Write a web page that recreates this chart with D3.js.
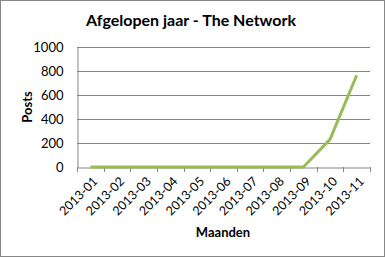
<!DOCTYPE html>
<html>
<head>
<meta charset="utf-8">
<script src="https://cdn.jsdelivr.net/npm/d3@7"></script>
<style>
  body { margin: 0; background: #fff; }
  text { font-family: Lato, "Open Sans", sans-serif; fill: #000; }
</style>
</head>
<body>
<div id="chart"></div>
<script>
// Chart data
const months = ["2013-01", "2013-02", "2013-03", "2013-04", "2013-05", "2013-06",
                "2013-07", "2013-08", "2013-09", "2013-10", "2013-11"];
const posts = [0, 0, 0, 0, 0, 0, 0, 0, 0, 230, 765];
const yTicks = [0, 200, 400, 600, 800, 1000];

const width = 385, height = 257;
const margin = { top: 47, right: 15, bottom: 90, left: 77 };

const svg = d3.select("#chart")
    .append("svg")
    .attr("width", width)
    .attr("height", height);

// outer border
svg.append("rect")
    .attr("x", 0.5).attr("y", 0.5)
    .attr("width", width - 1).attr("height", height - 1)
    .attr("fill", "#fff")
    .attr("stroke", "#868686");

const x = d3.scaleBand()
    .domain(months)
    .range([margin.left, width - margin.right]);

const y = d3.scaleLinear()
    .domain([0, 1000])
    .range([height - margin.bottom, margin.top]);

// gridlines
svg.append("g")
    .selectAll("line")
    .data(yTicks.slice(1))
    .join("line")
    .attr("x1", margin.left)
    .attr("x2", width - margin.right)
    .attr("y1", d => Math.round(y(d)) + 0.5)
    .attr("y2", d => Math.round(y(d)) + 0.5)
    .attr("stroke", "#868686");

// y axis
const yAxis = svg.append("g")
    .attr("transform", `translate(${margin.left + 0.5},0.5)`)
    .call(d3.axisLeft(y).tickValues(yTicks).tickFormat(d3.format("d")).tickSize(0).tickPadding(14));
yAxis.select(".domain").attr("stroke", "#868686");
yAxis.selectAll("text").style("font-size", "13px");

// x axis
const xAxis = svg.append("g")
    .attr("transform", `translate(0,${Math.round(y(0)) + 0.5})`)
    .call(d3.axisBottom(x).tickSize(0).tickFormat(""));
xAxis.select(".domain").attr("stroke", "#868686");

// tick marks between categories
svg.append("g")
    .selectAll("line")
    .data(months.map(m => x(m)).concat([x(months[months.length - 1]) + x.bandwidth()]))
    .join("line")
    .attr("x1", d => Math.round(d) + 0.5)
    .attr("x2", d => Math.round(d) + 0.5)
    .attr("y1", Math.round(y(0)))
    .attr("y2", Math.round(y(0)) + 5)
    .attr("stroke", "#868686");

// rotated month labels
svg.append("g")
    .selectAll("text")
    .data(months)
    .join("text")
    .attr("text-anchor", "end")
    .attr("transform", d => `translate(${x(d) + x.bandwidth() / 2 + 2},${y(0) + 9}) rotate(-45)`)
    .attr("dy", "0.7em")
    .style("font-size", "12.5px")
    .text(d => d);

// line
const line = d3.line()
    .x((d, i) => x(months[i]) + x.bandwidth() / 2)
    .y(d => y(d));

svg.append("path")
    .datum(posts)
    .attr("d", line)
    .attr("fill", "none")
    .attr("stroke", "#9BBB59")
    .attr("stroke-width", 3)
    .attr("stroke-linejoin", "round");

// title
svg.append("text")
    .attr("x", 191).attr("y", 26)
    .attr("text-anchor", "middle")
    .style("font-size", "16px")
    .style("font-weight", "bold")
    .text("Afgelopen jaar - The Network");

// axis titles
svg.append("text")
    .attr("transform", `translate(32,107) rotate(-90)`)
    .attr("text-anchor", "middle")
    .style("font-size", "13px")
    .style("font-weight", "bold")
    .text("Posts");

svg.append("text")
    .attr("x", 223).attr("y", 237)
    .attr("text-anchor", "middle")
    .style("font-size", "13px")
    .style("font-weight", "bold")
    .text("Maanden");
</script>
</body>
</html>
